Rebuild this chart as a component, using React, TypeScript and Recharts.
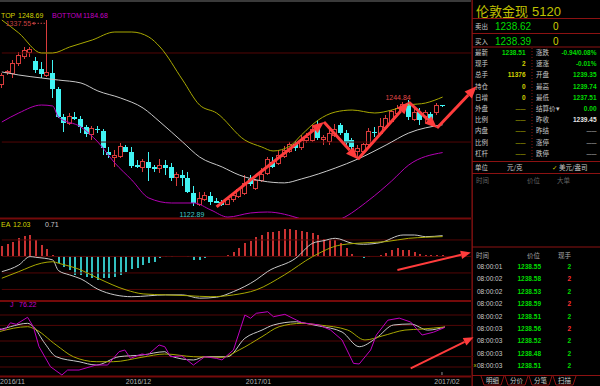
import React from 'react'
import {
  ComposedChart,
  Bar,
  Line,
  XAxis,
  YAxis,
  ReferenceLine,
  ReferenceDot
} from 'recharts'

// daily bars (79 bars)
const OPEN = [
  1262.6, 1276.5, 1275.3, 1287.6, 1295.2, 1300.3, 1290.6, 1280.7, 1274.1, 1276.8,
  1257.6, 1226.0, 1218.4, 1226.0, 1223.7, 1213.8, 1205.0, 1212.2, 1209.5, 1185.6,
  1179.2, 1179.9, 1191.4, 1185.6, 1170.3, 1167.7, 1174.1, 1167.7, 1166.5, 1170.3,
  1167.7, 1156.1, 1158.8, 1155.0, 1138.4, 1125.3, 1130.0, 1134.6, 1128.8, 1128.0,
  1124.2, 1130.0, 1133.8, 1137.7, 1154.3, 1143.4, 1152.0, 1160.7, 1174.1, 1172.3,
  1179.9, 1186.0, 1195.0, 1190.7, 1199.1, 1199.1, 1216.4, 1200.0, 1197.2, 1204.9,
  1216.4, 1206.9, 1199.1, 1185.6, 1185.6, 1193.4, 1208.7, 1206.9, 1214.1, 1220.5,
  1230.0, 1233.7, 1240.6, 1223.0, 1231.8, 1225.7, 1229.0, 1230.5, 1239.35
]
const HIGH = [
  1277.0, 1280.0, 1291.4, 1300.6, 1306.8, 1306.8, 1295.2, 1289.4, 1337.55, 1291.4,
  1260.3, 1229.1, 1230.3, 1231.8, 1226.8, 1216.4, 1215.3, 1215.3, 1211.8, 1191.4,
  1188.0, 1195.3, 1193.4, 1191.4, 1176.1, 1176.9, 1185.6, 1170.3, 1177.2, 1176.1,
  1172.3, 1162.6, 1164.5, 1162.6, 1146.2, 1139.5, 1139.5, 1139.5, 1131.9, 1130.0,
  1133.4, 1139.5, 1143.8, 1158.8, 1158.8, 1154.3, 1166.5, 1179.9, 1179.9, 1187.6,
  1192.2, 1197.0, 1198.0, 1204.9, 1207.0, 1215.3, 1222.2, 1204.9, 1211.8, 1218.0,
  1219.1, 1210.7, 1201.4, 1193.4, 1195.7, 1212.6, 1214.5, 1224.2, 1228.0, 1233.7,
  1239.5, 1243.0, 1244.84, 1236.0, 1235.7, 1233.7, 1231.0, 1241.5, 1239.74
]
const LOW = [
  1259.0, 1274.0, 1270.7, 1284.5, 1292.6, 1295.2, 1276.0, 1270.3, 1272.2, 1247.2,
  1224.5, 1208.7, 1216.4, 1222.2, 1207.2, 1202.6, 1199.1, 1207.2, 1181.8, 1178.4,
  1168.4, 1178.0, 1185.0, 1166.5, 1166.5, 1162.6, 1152.0, 1162.6, 1160.7, 1158.8,
  1152.0, 1146.2, 1146.2, 1137.7, 1122.89, 1123.5, 1129.2, 1124.0, 1126.1, 1123.5,
  1124.0, 1128.0, 1132.3, 1135.7, 1146.2, 1141.5, 1151.0, 1158.8, 1166.5, 1170.3,
  1178.4, 1184.0, 1187.0, 1187.6, 1196.0, 1196.8, 1199.1, 1193.4, 1193.4, 1203.0,
  1204.9, 1193.4, 1187.6, 1176.9, 1184.2, 1189.5, 1203.0, 1204.9, 1213.0, 1218.7,
  1228.0, 1231.4, 1222.2, 1221.0, 1216.4, 1218.7, 1216.0, 1228.0, 1237.51
]
const CLOSE = [
  1274.1, 1277.6, 1287.6, 1296.4, 1301.8, 1303.7, 1279.9, 1274.9, 1277.2, 1257.6,
  1226.0, 1218.4, 1226.8, 1223.0, 1213.8, 1205.7, 1212.6, 1210.7, 1189.6, 1181.8,
  1181.8, 1191.4, 1185.6, 1169.2, 1168.4, 1174.1, 1166.5, 1165.3, 1170.3, 1166.5,
  1155.0, 1158.8, 1155.0, 1139.6, 1126.1, 1131.9, 1135.7, 1128.0, 1126.8, 1124.2,
  1130.0, 1135.7, 1141.5, 1149.2, 1148.5, 1152.0, 1159.7, 1176.1, 1168.4, 1181.8,
  1187.6, 1194.0, 1190.0, 1199.1, 1202.6, 1210.7, 1201.1, 1202.0, 1206.9, 1210.7,
  1206.9, 1195.3, 1191.4, 1189.5, 1193.4, 1208.7, 1206.9, 1214.5, 1223.4, 1231.8,
  1235.7, 1240.6, 1226.0, 1230.6, 1222.2, 1230.3, 1222.0, 1239.45, 1238.51
]

// bollinger bands, [bar, price] read at points along each curve
const BOLL_UP = [
  [0, 1337.5], [3, 1322.6], [7, 1299.5], [9, 1299.5], [12, 1306.4], [16, 1314.5],
  [20, 1323.7], [23, 1323.7], [26, 1318], [28, 1306.4], [32, 1268.3], [35, 1239.5],
  [38, 1230.3], [43, 1199.1], [46, 1191.1], [48, 1186.5], [51, 1192.2], [53, 1204.9],
  [56, 1222.2], [59, 1231.4], [62, 1233.7], [66, 1230.3], [69, 1233.7], [72, 1239.5],
  [75, 1241.8], [78, 1248.69]
]
const BOLL_MID = [
  [0, 1277.6], [3, 1274.1], [7, 1270.7], [10, 1268.3], [14, 1264.9], [17, 1255.7],
  [21, 1247.6], [25, 1236], [28, 1219.9], [32, 1196.8], [35, 1179.5], [39, 1168],
  [42, 1158.8], [46, 1152], [50, 1149.7], [53, 1154.2], [59, 1166.8], [63, 1177.2],
  [68, 1193.4], [72, 1207.2], [78, 1216.69]
]
const BOLL_DN = [
  [0, 1219.9], [3, 1230.3], [7, 1239.5], [9, 1238.4], [10, 1225.7], [14, 1214.1],
  [17, 1196.8], [20, 1172.6], [23, 1153], [26, 1132.3], [30, 1126.5], [34, 1126.5],
  [37, 1118.4], [40, 1110.3], [44, 1115], [47, 1116.1], [53, 1108], [56, 1101.1],
  [60, 1108], [65, 1130], [69, 1152], [72, 1170.3], [78, 1184.68]
]

// macd pane
const MACD_HIST = [
  6.4, 7.4, 9, 11, 12.4, 13, 10, 7, 4.4, 0.9,
  -4.1, -6.2, -8.2, -11.2, -11.5, -12.2, -13.2, -14.2, -13.2, -12.8,
  -12.2, -11.2, -9.2, -7.8, -7.2, -5.2, -4.1, -3.2, -1.1, -0.5,
  -0.3, 0.3, 0.5, -0.5, -2.4, -2.4, -1, 0.3, 0.3, 0.5,
  0.8, 2.9, 5, 8.4, 9.6, 11.6, 13, 14.7, 15, 15.6,
  16.5, 16.5, 16, 15.6, 15, 14.4, 13, 10.4, 10, 10,
  8, 5, 1.5, 0.5, -1.1, -0.3, 0.3, 1, 2, 3.9,
  5, 3.9, 3.9, 2.4, 1.5, 1, 0.9, 0.8, 0.71
]
const DIF = [
  [0, -9.2], [3, -5.2], [5, -0.1], [6, -0.5], [9, -2.1], [10, -8.5], [12, -11.2],
  [14, -13.6], [17, -19.9], [20, -23.3], [23, -24.4], [29, -23.3], [32, -23.3],
  [35, -25.3], [38, -24.7], [41, -21.3], [45, -14.2], [47, -9.2], [52, -1.1],
  [55, 8], [57, 9.6], [59, 11], [62, 8], [64, 7.4], [67, 8.4], [71, 13], [73, 13],
  [75, 12], [78, 12.6]
]
const DEA = [
  [0, -13.2], [3, -9.2], [7, -4.1], [9, -3.2], [10, -4.1], [14, -8.2], [17, -13.2],
  [22, -20.3], [25, -22.7], [29, -23.3], [33, -23.8], [37, -24.4], [41, -23.3],
  [45, -20.3], [50, -11.2], [55, -0.1], [60, 7], [65, 8.4], [68, 9], [72, 11],
  [75, 11.6], [78, 12.03]
]

// kdj pane
const K_LINE = [
  [0, 71], [2, 77.5], [5, 84], [6, 77.5], [8, 45.6], [10, 19.8], [14, 10.2], [17, 3.8],
  [21, 19.8], [25, 23], [29, 29.4], [30, 21.2], [34, 13.5], [36, 19.8], [40, 19.8],
  [43, 55.2], [46, 71], [48, 80.8], [52, 87], [53, 85.2], [56, 78.8], [60, 67.3],
  [63, 39], [66, 55.8], [69, 80.8], [72, 82.7], [75, 71], [78, 77]
]
const D_LINE = [
  [0, 67.9], [5, 77.5], [6, 74.4], [10, 42.3], [13, 19.8], [17, 10.2], [20, 10.2],
  [25, 18.7], [29, 25], [34, 19.8], [39, 18.7], [42, 32.7], [46, 58.3], [49, 77.5],
  [53, 84], [56, 80.8], [61, 71], [64, 52], [67, 59.6], [71, 71], [74, 73], [78, 77]
]
const J_LINE = [
  [0, 74.4], [1, 71], [2, 85], [3, 82], [5, 95.6], [6, 77.5], [7, 39], [9, 0.6],
  [11, -15.4], [12, -5.8], [14, -5.8], [17, 3.8], [19, 3.8], [21, 29.4], [22, 32.7],
  [23, 16.7], [25, 25], [26, 23], [28, 42.3], [29, 39], [30, 19.8], [32, 21.2],
  [34, 3.8], [36, 19.8], [38, 16.7], [39, 13.5], [41, 32.7], [43, 100], [44, 93.7],
  [45, 103.3], [47, 106.3], [48, 96.7], [50, 101.3], [52, 90.4], [53, 85.2],
  [56, 80.8], [58, 71], [60, 52], [62, 7], [63, 5.8], [65, 32.7], [66, 61.5],
  [68, 90], [70, 94], [72, 86.5], [74, 61.5], [76, 67], [78, 76.22]
]

const MONTH_AT = [0, 22, 43, 78]
const MONTH_LABELS = ['2016/11', '2016/12', '2017/01', '2017/02']

const PRICE_GRID = [1299.5, 1196.8]
const MACD_GRID = [10, 0, -10, -20]
const KDJ_GRID = [100, 80, 50, 20, 0]

// hand drawn arrows, [bar, value] pairs
const PRICE_ARROWS = [
  [[38, 1122], [57, 1220]],
  [[57, 1220], [63, 1177]],
  [[63, 1177], [72, 1243]],
  [[72, 1243], [77, 1213]],
  [[77, 1213], [84, 1261]]
]
const MACD_ARROWS = [[[70, -8.2], [83, 2.4]]]
const KDJ_ARROWS = [[[72, -2.5], [83, 57]]]
const RECENT_HIGH_AT = 72

// quote panel
const LEFT_LABELS = ['最新', '现手', '总手', '持仓', '日增', '外盘', '比例', '内盘', '比例', '杠杆']
const LEFT_VALUES = ['1238.51', '2', '11376', '0', '0', '——', '——', '——', '——', '——']
const RIGHT_LABELS = ['涨跌', '速涨', '开盘', '最高', '最低', '结算价▾', '昨收', '昨结', '涨停', '跌停']
const RIGHT_VALUES = ['-0.94/0.08%', '-0.01%', '1239.35', '1239.74', '1237.51', '0.00', '1239.45', '——', '——', '——']

const TICK_TIMES = ['08:00:01', '08:00:02', '08:00:02', '08:00:02', '08:00:02', '08:00:03', '08:00:03', '08:00:03', '08:00:03']
const TICK_PRICES = ['1238.55', '1238.58', '1238.53', '1238.59', '1238.51', '1238.56', '1238.52', '1238.48', '1238.51']
const TICK_VOLS = [2, 2, 2, 2, 2, 2, 2, 2, 2]
const TICK_BUY = [false, true, false, true, false, true, false, false, false]
const TABS = ['明细', '分价', '分笔', '扫描']

const SLOTS = 86
const CHART_W = 486
const CHART_LEFT = -1.5

const RED = '#d83c3c'
const CYAN = '#40f4f4'
const YELLOW = '#a8a800'
const WHITE = '#c8c8c8'
const MAGENTA = '#b400b4'
const GRID_C = '#520606'
const SEP = '#740a0a'
const FRAME = '#8c1212'
const ARROW = '#ff3c3c'
const GREEN = '#00dc00'
const GOLD = '#d2d200'
const NUM = '"Liberation Sans", Arial, sans-serif'
const CJK = '"Noto Sans CJK SC", sans-serif'

const byBar = (pts: number[][]) => {
  const m = new Map(pts.map(([i, v]) => [i, v]))
  return (i: number) => (m.has(i) ? m.get(i)! : null)
}
const up = byBar(BOLL_UP), mid = byBar(BOLL_MID), dn = byBar(BOLL_DN)
const dif = byBar(DIF), dea = byBar(DEA)
const kk = byBar(K_LINE), dd = byBar(D_LINE), jj = byBar(J_LINE)

const rows = Array.from({ length: SLOTS }, (_, i) => {
  const bar = i < OPEN.length
  return {
    i,
    o: bar ? OPEN[i] : null,
    h: bar ? HIGH[i] : null,
    l: bar ? LOW[i] : null,
    c: bar ? CLOSE[i] : null,
    range: bar ? [LOW[i], HIGH[i]] : null,
    up: up(i), mid: mid(i), dn: dn(i),
    macd: bar ? MACD_HIST[i] : null,
    dif: dif(i), dea: dea(i),
    k: kk(i), d: dd(i), j: jj(i)
  }
})

const HIGH_AT = HIGH.indexOf(Math.max(...HIGH))
const LOW_AT = LOW.indexOf(Math.min(...LOW))

function Candle(props: any) {
  const { x, y, width, height, payload } = props
  if (!payload || payload.o == null) return <g />
  const { o, h, l, c } = payload
  const k = h > l ? height / (h - l) : 0
  const cx = Math.floor(x + width / 2) + 0.5
  const yO = y + (h - o) * k
  const yC = y + (h - c) * k
  const top = Math.min(yO, yC)
  const bh = Math.max(Math.abs(yO - yC), 1)
  if (c >= o) {
    return (
      <g stroke={RED} strokeWidth={1} shapeRendering="crispEdges">
        <line x1={cx} x2={cx} y1={y} y2={top} />
        <line x1={cx} x2={cx} y1={top + bh} y2={y + height} />
        <rect x={cx - 2} y={top} width={4} height={bh} fill="#000" />
      </g>
    )
  }
  return (
    <g shapeRendering="crispEdges">
      <line x1={cx} x2={cx} y1={y} y2={y + height} stroke={CYAN} />
      <rect x={cx - 2.5} y={top} width={5} height={bh} fill={CYAN} />
    </g>
  )
}

function HistBar(props: any) {
  const { x, y, width, height, payload } = props
  if (!payload || payload.macd == null) return <g />
  const cx = Math.floor(x + width / 2)
  const top = height < 0 ? y + height : y
  return (
    <rect x={cx - 0.5} y={top} width={2} height={Math.abs(height)}
      fill={payload.macd >= 0 ? '#c83232' : '#32c0c0'} shapeRendering="crispEdges" />
  )
}

function Arrow(props: any) {
  const { x1, y1, x2, y2, w, head } = props
  const len = Math.hypot(x2 - x1, y2 - y1) || 1
  const ux = (x2 - x1) / len, uy = (y2 - y1) / len
  const bx = x2 - ux * head, by = y2 - uy * head
  const hw = head * 0.42
  return (
    <g>
      <line x1={x1} y1={y1} x2={bx} y2={by} stroke={ARROW} strokeWidth={w} />
      <polygon
        points={`${x2},${y2} ${bx - uy * hw},${by + ux * hw} ${bx + uy * hw},${by - ux * hw}`}
        fill={ARROW}
      />
    </g>
  )
}

function PeakTag(props: any) {
  const { cx, cy } = props
  const ly = cy + 3.3
  return (
    <g>
      <text x={cx - 16} y={cy + 5.8} textAnchor="end" fontSize={7} fontFamily={NUM} fill="#c84040">
        {HIGH[HIGH_AT].toFixed(2)}
      </text>
      <polygon points={`${cx - 15.5},${ly} ${cx - 12.5},${ly - 1.6} ${cx - 12.5},${ly + 1.6}`} fill="#c84040" />
      <line x1={cx - 12.5} x2={cx - 1.5} y1={ly} y2={ly} stroke="#c84040" strokeDasharray="1.5 1.5" />
    </g>
  )
}

function RecentTag(props: any) {
  const { cx, cy } = props
  return (
    <text x={cx + 2} y={cy - 0.5} textAnchor="end" fontSize={7} fontFamily={NUM} fill="#e04848">
      {HIGH[RECENT_HIGH_AT].toFixed(2)}
    </text>
  )
}

function LowTag(props: any) {
  const { cx, cy } = props
  return (
    <text x={cx - 2} y={cy + 10.5} textAnchor="middle" fontSize={7} fontFamily={NUM} fill="#40c8c8">
      {LOW[LOW_AT].toFixed(2)}
    </text>
  )
}

function MonthTick(props: any) {
  const { x, y, payload } = props
  const n = MONTH_AT.indexOf(payload.value)
  if (n < 0) return <g />
  const last = n === MONTH_AT.length - 1
  return (
    <g>
      {last && <line x1={x - 3} x2={x - 3} y1={y - 4} y2={y - 1} stroke="#909090" />}
      <text x={last ? x + 2 : x + 1} y={y} dy={8} textAnchor={last ? 'middle' : 'start'}
        fontSize={7} fontFamily={NUM} fill="#b4b4b4">
        {MONTH_LABELS[n]}
      </text>
    </g>
  )
}

const gridLines = (vals: number[]) =>
  vals.map(v => (
    <ReferenceLine key={'g' + v} segment={[{ x: 0, y: v }, { x: 83, y: v }]} stroke={GRID_C} />
  ))

const arrows = (list: number[][][], w: number, head: number) =>
  list.map((a, n) => (
    <ReferenceLine
      key={'a' + n}
      segment={[{ x: a[0][0], y: a[0][1] }, { x: a[1][0], y: a[1][1] }]}
      shape={(p: any) => <Arrow {...p} w={w} head={head} />}
    />
  ))

const line = (key: string, color: string, type: any = 'monotone') => (
  <Line dataKey={key} stroke={color} strokeWidth={1} dot={false} activeDot={false}
    connectNulls type={type} isAnimationActive={false} />
)

function Chrome() {
  const rowY = (r: number) => 55 + r * 11.2
  const tickY = (r: number) => 269 + r * 12.4
  return (
    <svg width={600} height={386} style={{ position: 'absolute', left: 0, top: 0 }}>
      <rect x={0} y={0} width={471} height={2} fill="#3a3a3a" />
      {[217.5, 300, 375.5].map(y => (
        <rect key={y} x={0} y={y} width={471} height={2} fill={SEP} />
      ))}

      {/* pane headers */}
      <g fontFamily={NUM} fontSize={7}>
        <text x={1} y={17.5} fill={GOLD}>TOP</text>
        <text x={18} y={17.5} fill={GOLD}>{BOLL_UP[BOLL_UP.length - 1][1].toFixed(2)}</text>
        <text x={52} y={17.5} fill="#c000c0">BOTTOM</text>
        <text x={83} y={17.5} fill="#c000c0">{BOLL_DN[BOLL_DN.length - 1][1].toFixed(2)}</text>
        <text x={1} y={226.5} fill={GOLD}>EA</text>
        <text x={13} y={226.5} fill={GOLD}>{DEA[DEA.length - 1][1].toFixed(2)}</text>
        <text x={45} y={226.5} fill={WHITE}>{MACD_HIST[MACD_HIST.length - 1].toFixed(2)}</text>
        <text x={10} y={306.5} fill="#c800c8">J</text>
        <text x={19} y={306.5} fill="#c800c8">{J_LINE[J_LINE.length - 1][1].toFixed(2)}</text>
      </g>

      {/* quote panel frame */}
      <rect x={471.5} y={0} width={1.3} height={386} fill={FRAME} />
      {[18.5, 33.5, 47, 161.5, 173.5, 247].map(y => (
        <line key={y} x1={472} x2={600} y1={y} y2={y} stroke={FRAME} />
      ))}
      <line x1={532} x2={532} y1={48} y2={161} stroke={FRAME} strokeDasharray="1 2" />

      <text x={476} y={15.5} fontFamily={CJK} fontSize={13} fill="#c0c000">伦敦金现</text>
      <text x={532} y={15.5} fontFamily={NUM} fontSize={13} fill="#c0c000">5120</text>

      <text x={475} y={29} fontFamily={CJK} fontSize={6.5} fill={WHITE}>卖出</text>
      <text x={495} y={30} fontFamily={NUM} fontSize={10} fill={GREEN}>1238.62</text>
      <text x={553} y={30} fontFamily={NUM} fontSize={10} fill={GOLD}>0</text>
      <text x={475} y={44} fontFamily={CJK} fontSize={6.5} fill={WHITE}>买入</text>
      <text x={495} y={45} fontFamily={NUM} fontSize={10} fill={GREEN}>1238.39</text>
      <text x={553} y={45} fontFamily={NUM} fontSize={10} fill={GOLD}>0</text>

      {LEFT_LABELS.map((t, r) => (
        <text key={'ll' + r} x={475} y={rowY(r)} fontFamily={CJK} fontSize={6.5} fill={WHITE}>{t}</text>
      ))}
      {LEFT_VALUES.map((t, r) => (
        <text key={'lv' + r} x={525.5} y={rowY(r)} textAnchor="end" fontFamily={NUM}
          fontSize={t === '——' ? 5 : 6.5} fontWeight="bold"
          fill={r === 0 ? GREEN : t === '——' ? '#a0a000' : GOLD}>{t}</text>
      ))}
      {RIGHT_LABELS.map((t, r) => (
        <text key={'rl' + r} x={536} y={rowY(r)} fontFamily={CJK} fontSize={6.5} fill={WHITE}>{t}</text>
      ))}
      {RIGHT_VALUES.map((t, r) => (
        <text key={'rv' + r} x={596.5} y={rowY(r)} textAnchor="end" fontFamily={NUM}
          fontSize={t === '——' ? 5 : 6.5} fontWeight="bold"
          fill={r < 6 ? GREEN : r === 6 ? '#e6e6e6' : '#a0a0a0'}>{t}</text>
      ))}

      <g fontSize={6.5} fill={WHITE}>
        <text x={475} y={170} fontFamily={CJK}>单位</text>
        <text x={507} y={170} fontFamily={CJK}>元/克</text>
        <text x={552} y={170} fontFamily='"DejaVu Sans", sans-serif' fill={GOLD}>✓</text>
        <text x={559} y={170} fontFamily={CJK}>美元/盎司</text>
      </g>
      <g fontSize={6.5} fill="#646464" fontFamily={CJK}>
        <text x={476} y={182.5}>时间</text>
        <text x={527} y={182.5}>价位</text>
        <text x={557} y={182.5}>大单</text>
      </g>

      <g fontSize={6.5} fill="#a8a8a8" fontFamily={CJK}>
        <text x={476} y={257.5}>时间</text>
        <text x={527} y={257.5}>价位</text>
        <text x={558} y={257.5}>现手</text>
      </g>
      {TICK_TIMES.map((t, r) => (
        <g key={'t' + r} fontFamily={NUM} fontSize={6.5}>
          <text x={477} y={tickY(r)} fill={WHITE}>{t}</text>
          <text x={541} y={tickY(r)} textAnchor="end" fill={GREEN} fontWeight="bold">{TICK_PRICES[r]}</text>
          <text x={571} y={tickY(r)} textAnchor="end" fill={TICK_BUY[r] ? '#ff3030' : GREEN} fontWeight="bold">
            {TICK_VOLS[r]}
          </text>
        </g>
      ))}
      <text x={473.5} y={367} fontFamily={NUM} fontSize={6} fill={GOLD}>x</text>

      {/* bottom tabs */}
      <line x1={472} x2={600} y1={375.5} y2={375.5} stroke={FRAME} />
      {TABS.map((t, n) => {
        const x0 = 481 + n * 24, x1 = x0 + 23
        return (
          <g key={t}>
            <polyline points={`${x0},376 ${x0 + 3},385 ${x1 - 3},385 ${x1},376`} fill="#000" stroke={FRAME} />
            <text x={(x0 + x1) / 2} y={383} textAnchor="middle" fontFamily={CJK} fontSize={6.5} fill={WHITE}>{t}</text>
          </g>
        )
      })}
    </svg>
  )
}

export default function App() {
  const margin = { top: 0, right: 0, bottom: 0, left: 0 }
  return (
    <div style={{ position: 'fixed', left: 0, top: 0, width: 600, height: 386, background: '#000', overflow: 'hidden' }}>
      <Chrome />

      {/* price pane with bollinger bands */}
      <div style={{ position: 'absolute', left: CHART_LEFT, top: 4 }}>
        <ComposedChart width={CHART_W} height={214} data={rows} margin={margin}>
          <XAxis dataKey="i" hide />
          <YAxis hide domain={[1109.2, 1356]} allowDataOverflow />
          {gridLines(PRICE_GRID)}
          <Bar dataKey="range" barSize={5} isAnimationActive={false} shape={(p: any) => <Candle {...p} />} />
          {line('up', YELLOW)}
          {line('mid', WHITE)}
          {line('dn', MAGENTA)}
          <ReferenceDot x={HIGH_AT} y={HIGH[HIGH_AT]} r={0} shape={(p: any) => <PeakTag {...p} />} />
          <ReferenceDot x={RECENT_HIGH_AT} y={HIGH[RECENT_HIGH_AT]} r={0} shape={(p: any) => <RecentTag {...p} />} />
          <ReferenceDot x={LOW_AT} y={LOW[LOW_AT]} r={0} shape={(p: any) => <LowTag {...p} />} />
          {arrows(PRICE_ARROWS, 3, 12)}
        </ComposedChart>
      </div>

      {/* macd pane */}
      <div style={{ position: 'absolute', left: CHART_LEFT, top: 219 }}>
        <ComposedChart width={CHART_W} height={81} data={rows} margin={margin}>
          <XAxis dataKey="i" hide />
          <YAxis hide domain={[-26.4, 22.7]} allowDataOverflow />
          {gridLines(MACD_GRID)}
          <Bar dataKey="macd" barSize={5} isAnimationActive={false} shape={(p: any) => <HistBar {...p} />} />
          {line('dif', WHITE)}
          {line('dea', YELLOW)}
          {arrows(MACD_ARROWS, 2, 10)}
        </ComposedChart>
      </div>

      {/* kdj pane with date axis */}
      <div style={{ position: 'absolute', left: CHART_LEFT, top: 302 }}>
        <ComposedChart width={CHART_W} height={84} data={rows} margin={margin}>
          <XAxis dataKey="i" height={10} axisLine={false} tickLine={false} tickSize={0} tickMargin={0}
            interval={0} tick={(p: any) => <MonthTick {...p} />} />
          <YAxis hide domain={[-17.3, 125]} allowDataOverflow />
          {gridLines(KDJ_GRID)}
          {line('k', WHITE)}
          {line('d', YELLOW)}
          {line('j', '#c000c0', 'linear')}
          {arrows(KDJ_ARROWS, 2, 10)}
        </ComposedChart>
      </div>
    </div>
  )
}
